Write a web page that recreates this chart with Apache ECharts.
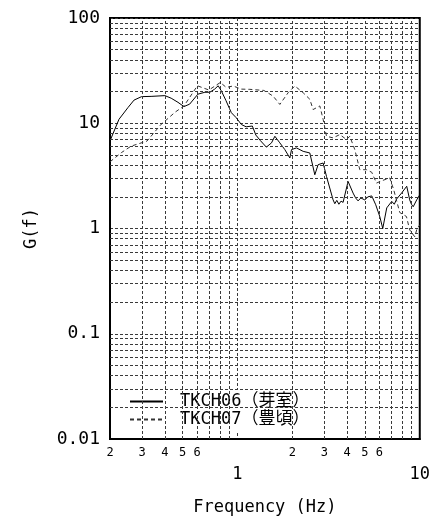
<!DOCTYPE html>
<html>
<head>
<meta charset="utf-8">
<script src="https://cdn.jsdelivr.net/npm/echarts@6/dist/echarts.min.js"></script>
<style>
  html, body { margin: 0; padding: 0; background: #fff; }
  #chart { width: 433px; height: 525px; }
</style>
</head>
<body>
<div id="chart"></div>
<script>
// Power spectra G(f) at two stations, log-log axes
const seriesNames = ['TKCH06（芽室）', 'TKCH07（豊頃）'];

// TKCH06 (solid)
const freqA = [0.2, 0.224, 0.251, 0.271, 0.298, 0.336, 0.400, 0.433, 0.472, 0.509, 0.547, 0.607, 0.663, 0.706,
  0.750, 0.784, 0.815, 0.864, 0.926, 0.984, 1.051, 1.116, 1.207, 1.262, 1.336, 1.441, 1.538, 1.604, 1.708,
  1.819, 1.938, 1.980, 2.108, 2.293, 2.494, 2.657, 2.770, 2.951, 3.080, 3.347, 3.42, 3.506, 3.60, 3.70, 3.797,
  4.044, 4.308, 4.45, 4.588, 4.75, 4.993, 5.2, 5.454, 5.735, 6.034, 6.266, 6.590, 7.020, 7.25, 7.476, 7.962,
  8.482, 8.807, 9.0, 9.206, 9.622, 10];
const gA = [6.8, 10.9, 14.1, 16.6, 17.9, 18.0, 18.3, 17.3, 15.8, 14.4, 15.2, 18.9, 19.7, 19.7,
  21.1, 22.7, 20.4, 16.5, 12.6, 11.3, 9.73, 9.25, 9.41, 7.72, 6.84, 5.93, 6.51, 7.52, 6.51,
  5.62, 4.68, 5.62, 5.83, 5.41, 5.22, 3.24, 4.04, 4.19, 3.12, 1.87, 1.72, 1.85, 1.70, 1.82, 1.77,
  2.80, 2.17, 1.95, 1.83, 1.95, 1.87, 2.0, 2.04, 1.68, 1.30, 1.00, 1.57, 1.81, 1.70, 1.91, 2.18,
  2.52, 1.87, 1.70, 1.61, 1.87, 2.09];

// TKCH07 (dashed)
const freqB = [0.2, 0.231, 0.261, 0.319, 0.382, 0.411, 0.454, 0.509, 0.603, 0.697, 0.806, 0.868, 0.947,
  1.049, 1.170, 1.396, 1.570, 1.708, 1.897, 2.064, 2.293, 2.494, 2.600, 2.830, 2.951, 3.080, 3.347, 3.642,
  3.964, 4.133, 4.402, 4.689, 5.102, 5.454, 5.786, 6.187, 6.845, 7.198, 7.764, 8.450, 8.807, 9.382, 9.682, 10];
const gB = [4.3, 5.26, 6.06, 6.77, 9.79, 10.9, 12.7, 14.6, 22.7, 20.7, 24.4, 21.9, 22.6,
  21.1, 21.0, 20.5, 18.1, 15.1, 19.5, 22.6, 19.5, 16.9, 13.5, 14.6, 10.9, 7.52, 7.26, 7.81,
  7.00, 7.52, 5.62, 3.62, 3.62, 3.42, 2.70, 2.84, 3.03, 2.33, 1.42, 1.30, 0.97, 0.835, 1.01, 1.08];

// Axis labels
const xMajorLabels = { 1: '1', 10: '10' };
const xMinorValues = [0.2, 0.3, 0.4, 0.5, 0.6, 0.7, 0.8, 0.9, 2, 3, 4, 5, 6, 7, 8, 9];
const xMinorLabels = ['2', '3', '4', '5', '6', '', '', '', '2', '3', '4', '5', '6', '', '', ''];
const yTickLabels = ['0.01', '0.1', '1', '10', '100'];
const yMinorValues = [0.02, 0.03, 0.04, 0.05, 0.06, 0.07, 0.08, 0.09,
  0.2, 0.3, 0.4, 0.5, 0.6, 0.7, 0.8, 0.9,
  2, 3, 4, 5, 6, 7, 8, 9,
  20, 30, 40, 50, 60, 70, 80, 90];

const FONT = '"DejaVu Sans Mono", "Noto Sans CJK JP", monospace';
const GRID_LINE = { color: '#3a3a3a', width: 1, type: [3, 2] };

const pairs = (xs, ys) => xs.map((x, i) => [x, ys[i]]);

// minor grid lines (2..9 in each decade), with the small digit labels under the x axis
const minorLines = xMinorValues.map((v, i) => ({
  xAxis: v,
  lineStyle: v === 0.2 ? { color: 'rgba(0,0,0,0)' } : undefined,
  label: xMinorLabels[i] ? { show: true, formatter: xMinorLabels[i] } : { show: false }
})).concat(yMinorValues.map(v => ({ yAxis: v, label: { show: false } })));

const chart = echarts.init(document.getElementById('chart'), null, { renderer: 'canvas' });
chart.setOption({
  animation: false,
  backgroundColor: '#fff',
  grid: {
    left: 110, right: 13, top: 18, bottom: 86,
    show: true, borderColor: '#000', borderWidth: 2, backgroundColor: 'transparent'
  },
  legend: {
    data: seriesNames,
    orient: 'vertical',
    left: 124, top: 389,
    backgroundColor: '#fff',
    padding: [4, 12, 4, 5],
    itemWidth: 33, itemHeight: 10, itemGap: 1,
    itemStyle: { opacity: 0 },
    textStyle: { fontFamily: FONT, fontSize: 17, color: '#000', lineHeight: 17, padding: [0, 0, 0, 12] }
  },
  xAxis: {
    type: 'log', logBase: 10, min: 0.2, max: 10,
    name: 'Frequency (Hz)', nameLocation: 'middle', nameGap: 60,
    nameTextStyle: { fontFamily: FONT, fontSize: 17, color: '#000' },
    axisLine: { show: true, lineStyle: { color: '#000', width: 2 } },
    axisTick: { show: false },
    splitLine: { show: true, lineStyle: GRID_LINE },
    axisLabel: {
      fontFamily: FONT, fontSize: 17, color: '#000', margin: 27,
      showMinLabel: true, showMaxLabel: true,
      formatter: v => {
        const k = Math.round(v * 1000) / 1000;
        return xMajorLabels[k] || '';
      }
    }
  },
  yAxis: {
    type: 'log', logBase: 10, min: 0.01, max: 100,
    name: 'G(f)', nameLocation: 'middle', nameGap: 70,
    nameTextStyle: { fontFamily: FONT, fontSize: 17, color: '#000' },
    axisLine: { show: true, lineStyle: { color: '#000', width: 2 } },
    axisTick: { show: false },
    splitLine: { show: true, lineStyle: GRID_LINE },
    axisLabel: {
      fontFamily: FONT, fontSize: 18, color: '#000', margin: 10,
      formatter: v => yTickLabels[Math.round(Math.log10(v)) + 2]
    }
  },
  series: [
    {
      name: seriesNames[0], type: 'line', data: pairs(freqA, gA),
      symbol: 'none', showSymbol: false, z: 3,
      lineStyle: { color: '#000', width: 1 }, itemStyle: { color: '#000' },
      markLine: {
        silent: true, symbol: 'none', animation: false,
        lineStyle: GRID_LINE,
        label: { show: false, position: 'start', distance: 8, fontFamily: FONT, fontSize: 12, color: '#000' },
        emphasis: { disabled: true },
        data: minorLines
      }
    },
    {
      name: seriesNames[1], type: 'line', data: pairs(freqB, gB),
      symbol: 'none', showSymbol: false, z: 3,
      lineStyle: { color: '#333', width: 1, type: [4, 3] }, itemStyle: { color: '#333' }
    }
  ]
});
</script>
</body>
</html>
